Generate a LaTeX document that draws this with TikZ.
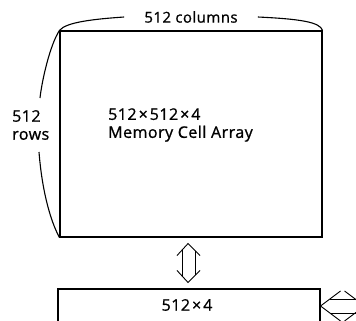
\documentclass[tikz,border=0pt]{standalone}
\usepackage{fontspec}
\setmainfont[LetterSpace=3,FakeBold=1]{Open Sans}
\usetikzlibrary{calc}

\newcommand{\tms}{\kern2pt×\kern2pt}

\tikzset{
  box/.style={draw, line width=1.1pt, inner sep=0pt},
  lbl/.style={font=\fontsize{16}{18}\selectfont, inner sep=0pt},
  bus/.style={draw, line width=0.9pt, line join=miter},
  brace/.style={draw, line width=1.1pt}
}

\begin{document}
\begin{tikzpicture}[x=1pt,y=-1pt]
\useasboundingbox (0,0) rectangle (356,321);
\clip (0,0) rectangle (356,321);

% memory array and register
\node[box, minimum width=262pt, minimum height=206pt] (array) at (191,134) {};
\node[lbl, anchor=west, align=left] (arraytxt) at (108,125) {512\tms512\tms4\\Memory Cell Array};
\node[box, minimum width=262pt, minimum height=34pt] (reg) at (189,306) {};
\node[lbl] (regtxt) at (187,305) {512\tms4};

% braces
\node[lbl, font=\fontsize{15}{18}\selectfont, inner xsep=20pt] (cols) at (191,17) {512 columns};
\node[lbl, anchor=west, align=left] (rows) at (12,125) {512\\rows};
\coordinate (rowtop) at (40,98);
\coordinate (rowbot) at (39,152);
\draw[brace] (array.north west) .. controls (66,22) and (95,19) .. (cols.west);
\draw[brace] (cols.east) .. controls (300,19) and (320,22) .. (array.north east);
\draw[brace] (array.north west) .. controls (50,45) and (42,80) .. (rowtop);
\draw[brace] (rowbot) .. controls (42,190) and (50,220) .. (array.south west);

% data paths
\coordinate (vtip) at ($(array.south)+(-3,6)$);
\coordinate (vend) at ($(reg.north)+(-1,-6)$);
\draw[bus] ($(vtip)+(-11,12)$) -- (vtip) -- ++(12,12);
\draw[bus] ($(vend)+(-11,-12)$) -- (vend) -- ++(12,-12);
\draw[bus] ($(vtip)+(-6,6)$) -- ($(vend)+(-6,-6)$);
\draw[bus] ($(vtip)+(7,7)$) -- ($(vend)+(7,-7)$);
\coordinate (htip) at (reg.east);
\draw[bus] ($(htip)+(20,-15)$) -- (htip) -- ++(20,15);
\draw[bus] ($(htip)+(24,-15)$) -- ++(20,15) -- ++(-20,15);
\draw[bus] ($(htip)+(9.3,-7)$) -- ++(48,0);
\draw[bus] ($(htip)+(9.3,7)$) -- ++(48,0);
\end{tikzpicture}
\end{document}
